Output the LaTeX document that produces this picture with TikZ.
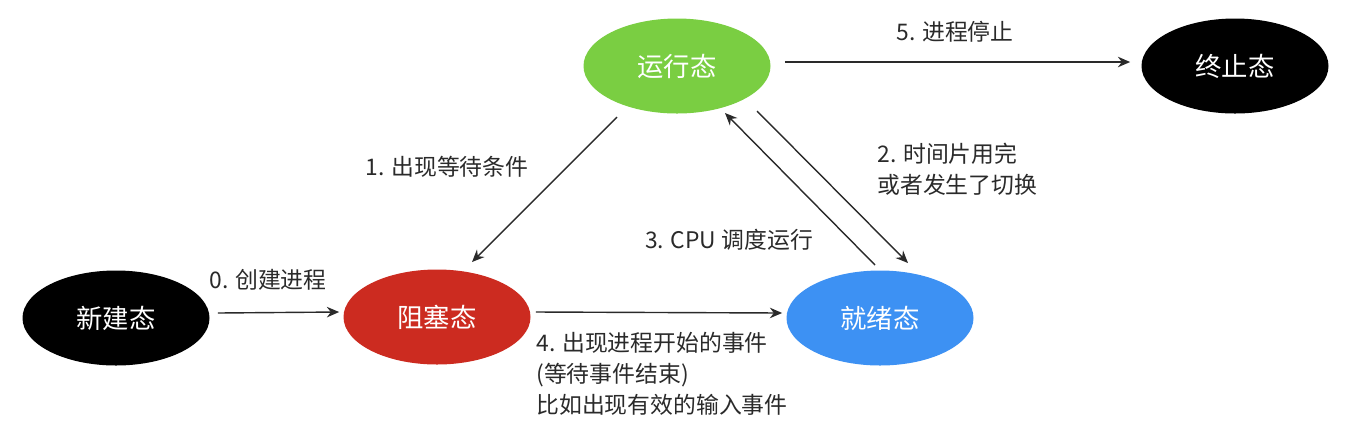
\documentclass[tikz,border=0pt]{standalone}
\usepackage{fontspec}
\setmainfont{Noto Sans CJK SC}
\usepackage{xcolor}
\usetikzlibrary{shapes.geometric,arrows.meta}
\definecolor{rungreen}{HTML}{7ACE42}
\definecolor{blockred}{HTML}{CC2B20}
\definecolor{readyblue}{HTML}{3D91F3}
\definecolor{linegray}{HTML}{2A2A2A}

\begin{document}
\begin{tikzpicture}
  [state/.style={ellipse,draw=none,text=white,minimum width=3.74cm,minimum height=1.9cm,
     font=\fontsize{15}{18}\selectfont},
   note/.style={text=linegray,font=\fontsize{13}{17.6}\selectfont,inner sep=0pt},
   arr/.style={-{Stealth[length=7pt,width=6pt]},linegray,line width=0.8pt}]
\useasboundingbox (0,0) rectangle (26.92,-8.56);
% states
\node[state,fill=rungreen]  (run)   at (13.54,-1.32) {运行态};
\node[state,fill=black]     (end)   at (24.70,-1.32) {终止态};
\node[state,fill=black]     (new)   at (2.32,-6.36)  {新建态};
\node[state,fill=blockred]  (block) at (8.74,-6.34)  {阻塞态};
\node[state,fill=readyblue] (ready) at (17.60,-6.36) {就绪态};
% transitions
\draw[arr] ([xshift=0.28cm,yshift=0.08cm]run.east) -- ([xshift=-0.22cm,yshift=0.08cm]end.west);
\draw[arr] ([xshift=0.16cm,yshift=0.1cm]new.east) -- ([xshift=-0.08cm,yshift=0.1cm]block.west);
\draw[arr] ([xshift=0.1cm,yshift=0.1cm]block.east) -- ([xshift=-0.08cm,yshift=0.1cm]ready.west);
\draw[arr] ([shift={(-1.2,-1.02)}]run.center) -- ([shift={(0.70,1.10)}]block.center);
\draw[arr] ([shift={(-0.10,1.06)}]ready.center) -- ([shift={(0.96,-0.94)}]run.center);
\draw[arr] ([shift={(1.60,-0.90)}]run.center) -- ([shift={(0.56,1.10)}]ready.center);
% labels
\node[note] (l5) at (19.10,-0.64) {5. 进程停止};
\node[note] (l1) at (8.94,-3.34) {1. 出现等待条件};
\node[note] (l3) at (14.58,-4.80) {3. CPU 调度运行};
\node[note,anchor=west,align=left] (l2) at (17.54,-3.38) {2. 时间片用完\\或者发生了切换};
\node[note] (l0) at (5.36,-5.60) {0. 创建进程};
\node[note,anchor=west,align=left] (l4) at (10.72,-7.48)
  {4. 出现进程开始的事件\\(等待事件结束)\\比如出现有效的输入事件};
\end{tikzpicture}
\end{document}
